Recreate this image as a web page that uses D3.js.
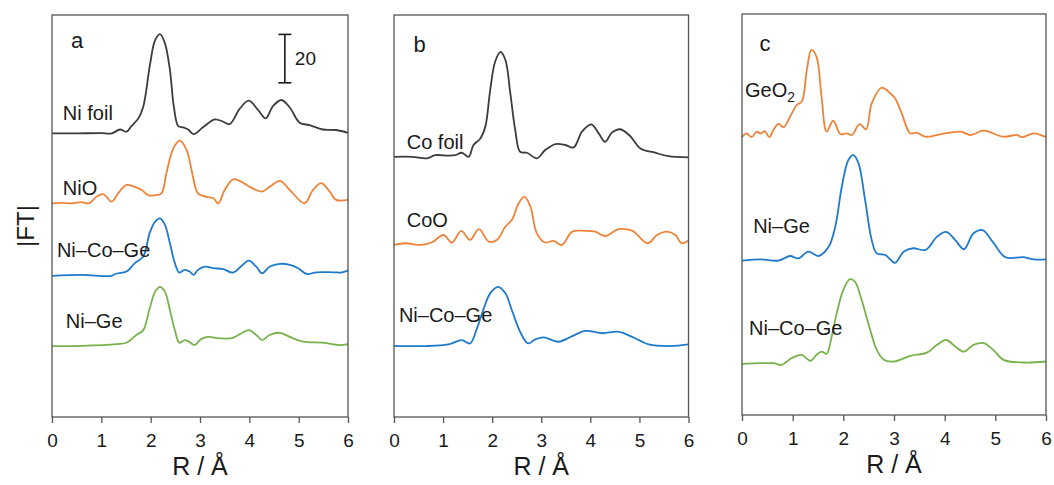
<!DOCTYPE html>
<html>
<head>
<meta charset="utf-8">
<script src="https://cdn.jsdelivr.net/npm/d3@7"></script>
<style>
body { margin: 0; background: #fff; }
text { font-family: Arial, "Liberation Sans", sans-serif; fill: #1a1a1a; }
</style>
</head>
<body>
<svg id="chart" width="1054" height="485"></svg>
<script>

/* data: [R (Å), |FT|] */
var rTicks = [0, 1, 2, 3, 4, 5, 6]

var niFoil = [[0,0.5],[0.5,0.5],[1.0,0.6],[1.21,0.5],[1.38,2.1],[1.51,1.2],[1.61,3.5],[1.75,6.7],[1.85,11.5],[1.99,29.4],[2.09,39.0],[2.19,41.5],[2.29,37.7],[2.39,26.7],[2.47,11.5],[2.56,3.5],[2.66,3.0],[2.76,2.1],[2.87,0.2],[3.06,3.0],[3.3,6.3],[3.47,5.3],[3.6,4.3],[3.81,10.8],[3.99,14.0],[4.18,10.1],[4.33,6.7],[4.48,11.8],[4.65,14.3],[4.82,11.2],[5.02,4.9],[5.22,3.9],[5.49,2.1],[5.76,1.9],[6.0,0.7]]
var niO = [[0,0.3],[0.2,0.5],[0.4,0.3],[0.6,0.8],[0.75,0.3],[0.9,3.0],[1.04,4.1],[1.21,1.0],[1.34,4.4],[1.51,7.9],[1.68,7.1],[1.82,5.8],[1.95,3.7],[2.12,3.7],[2.22,4.4],[2.32,12.8],[2.46,23.0],[2.59,26.2],[2.73,22.3],[2.83,14.0],[2.96,4.4],[3.13,3.0],[3.27,2.4],[3.37,0.3],[3.5,5.8],[3.67,10.2],[3.81,9.5],[4.01,7.1],[4.25,5.1],[4.41,7.1],[4.62,9.6],[4.82,5.8],[5.12,0.3],[5.29,5.8],[5.46,8.6],[5.63,5.1],[5.76,1.7],[6.0,1.7]]
var niCoGeA = [[0,0.2],[0.6,0.6],[1.21,0.2],[1.28,1.0],[1.51,2.0],[1.68,5.5],[1.85,8.2],[1.98,17.9],[2.09,22.6],[2.19,24.0],[2.29,21.3],[2.39,13.7],[2.49,5.5],[2.58,1.6],[2.69,2.7],[2.79,2.0],[2.87,0.6],[2.96,2.7],[3.1,4.0],[3.27,3.4],[3.47,3.0],[3.67,1.6],[3.84,4.3],[3.99,6.5],[4.14,4.0],[4.26,1.3],[4.41,4.0],[4.62,5.2],[4.82,4.8],[4.99,3.4],[5.16,1.0],[5.36,1.7],[5.69,1.7],[5.86,1.6],[6.0,2.4]]
var niGeA = [[0,0.2],[0.6,0.3],[1.31,1.0],[1.51,1.6],[1.71,4.8],[1.85,6.8],[1.98,15.8],[2.09,22.6],[2.19,24.7],[2.29,22.6],[2.39,15.1],[2.49,6.8],[2.58,1.6],[2.69,2.7],[2.78,2.0],[2.89,0.6],[3.02,3.0],[3.16,4.0],[3.4,3.4],[3.67,3.6],[3.84,5.5],[3.99,6.8],[4.14,4.8],[4.26,2.7],[4.41,4.8],[4.62,5.7],[4.82,4.0],[5.09,2.0],[5.49,1.6],[5.83,0.6],[6.0,1.0]]

var coFoil = [[0,0.7],[0.37,0.7],[0.67,0.1],[0.84,1.4],[1.11,1.2],[1.25,1.4],[1.38,2.4],[1.52,0.7],[1.62,5.6],[1.76,8.3],[1.86,13.1],[1.96,28.3],[2.06,40.0],[2.17,44.1],[2.27,40.7],[2.37,26.9],[2.47,11.8],[2.57,2.8],[2.71,2.4],[2.91,0.1],[3.08,3.5],[3.29,6.0],[3.49,5.6],[3.66,4.6],[3.83,11.1],[4.02,14.1],[4.17,10.4],[4.3,6.9],[4.44,10.7],[4.61,12.1],[4.81,9.3],[5.02,4.2],[5.32,2.4],[5.59,1.0],[6.0,0.5]]
var coO = [[0,0.2],[0.23,0.9],[0.54,0.2],[0.77,1.2],[1.01,4.3],[1.18,1.2],[1.37,6.0],[1.55,2.3],[1.73,6.7],[1.93,1.6],[2.1,2.3],[2.27,7.8],[2.4,10.5],[2.54,17.4],[2.66,20.2],[2.78,16.0],[2.91,5.0],[3.08,1.2],[3.25,1.9],[3.42,0.2],[3.63,5.7],[3.9,6.0],[4.1,5.7],[4.3,3.9],[4.58,6.7],[4.85,6.1],[5.17,0.9],[5.36,4.3],[5.56,5.7],[5.73,4.3],[5.86,0.9],[6.0,2.0]]
var niCoGeB = [[0,0.3],[0.64,0.2],[1.11,0.9],[1.38,2.7],[1.55,1.3],[1.69,7.5],[1.83,15.8],[1.96,22.0],[2.12,24.7],[2.27,22.0],[2.4,15.1],[2.57,6.1],[2.73,1.3],[2.88,3.0],[3.05,3.8],[3.35,2.0],[3.63,4.3],[3.9,6.5],[4.24,5.5],[4.58,6.1],[4.85,4.0],[5.19,0.9],[5.6,0.2],[6.0,0.9]]

var geO2 = [[0,0.1],[0.09,1.7],[0.19,0.1],[0.29,2.4],[0.37,1.6],[0.45,2.6],[0.54,0.1],[0.62,3.1],[0.72,5.6],[0.82,4.2],[0.95,8.6],[1.08,13.4],[1.18,14.8],[1.28,27.9],[1.37,36.2],[1.47,33.4],[1.57,16.9],[1.67,2.4],[1.8,6.9],[1.94,1.4],[2.07,1.7],[2.17,1.0],[2.32,5.5],[2.45,3.4],[2.56,14.1],[2.76,20.6],[2.89,18.9],[3.02,16.2],[3.15,10.0],[3.32,1.7],[3.45,2.0],[3.62,0.3],[3.91,1.3],[4.31,2.4],[4.51,1.0],[4.77,2.8],[5.16,0.3],[5.43,1.0],[5.53,0.1],[5.76,1.7],[6.0,0.1]]
var niGeC = [[0,1.0],[0.36,1.5],[0.72,1.0],[0.95,2.9],[1.11,1.9],[1.31,4.7],[1.51,2.9],[1.71,6.7],[1.84,15.0],[1.97,31.5],[2.1,42.6],[2.2,44.6],[2.3,41.2],[2.43,26.0],[2.56,9.5],[2.66,4.0],[2.83,3.3],[3.02,0.1],[3.19,4.7],[3.38,6.1],[3.62,5.4],[3.85,10.9],[4.03,12.9],[4.21,9.5],[4.38,5.7],[4.57,12.3],[4.75,13.6],[4.96,8.4],[5.2,2.4],[5.56,2.4],[5.76,1.5],[6.0,1.5]]
var niCoGeC = [[0,0.6],[0.36,0.9],[0.62,0.9],[0.78,0.2],[0.98,3.0],[1.18,4.3],[1.35,1.9],[1.47,4.3],[1.57,5.7],[1.67,4.8],[1.77,11.9],[1.87,21.6],[2.0,31.2],[2.13,35.6],[2.23,34.6],[2.36,27.1],[2.53,14.7],[2.66,6.4],[2.8,2.3],[2.99,1.6],[3.32,3.9],[3.65,5.3],[3.85,8.5],[4.03,10.5],[4.21,7.8],[4.38,5.7],[4.57,8.5],[4.77,9.2],[4.96,6.4],[5.16,2.3],[5.56,1.2],[6.0,1.6]]

var panelA_names = ["Ni foil", "NiO", "Ni–Co–Ge", "Ni–Ge"]
var panelA_offsets = [116.7, 88.0, 58.1, 29.1]
var panelB_names = ["Co foil", "CoO", "Ni–Co–Ge"]
var panelB_offsets = [106.8, 70.9, 29.1]
var panelC_names = ["GeO2", "Ni–Ge", "Ni–Co–Ge"]
var panelC_offsets = [114.7, 62.8, 20.5]
var scaleBarValue = 20

/* styles */
var colors = { dark: "#3c3c3c", orange: "#ee8339", blue: "#1f7acb", green: "#77b24c" }

var layout = {
  unitsPerPanel: 166,
  tickLen: 6,
  tickPad: 11,
  curveW: 1.8,
  frameW: 1.3,
  frameColor: "#555",
  labelSize: "20px",
  tickSize: "19px"
}

var panels = [
  { letter: "a", left: 52, right: 348, top: 15, bottom: 417, letterDx: 19, letterDy: 33,
    series: [niFoil, niO, niCoGeA, niGeA], names: panelA_names, offsets: panelA_offsets,
    colors: [colors.dark, colors.orange, colors.blue, colors.green],
    labels: [[0.22, 122.9], [0.22, 91.7], [0.1, 66.1], [0.28, 36.8]] },
  { letter: "b", left: 394, right: 688.5, top: 15, bottom: 417, letterDx: 19.5, letterDy: 36.5,
    series: [coFoil, coO, niCoGeB], names: panelB_names, offsets: panelB_offsets,
    colors: [colors.dark, colors.orange, colors.blue],
    labels: [[0.26, 110.7], [0.26, 78.5], [0.1, 39.3]] },
  { letter: "c", left: 742, right: 1046, top: 14, bottom: 415, letterDx: 17.5, letterDy: 36.5,
    series: [geO2, niGeC, niCoGeC], names: panelC_names, offsets: panelC_offsets,
    colors: [colors.orange, colors.blue, colors.green],
    labels: [[0.06, 131.4], [0.22, 75.2], [0.14, 33.1]] }
]

var svg = d3.select("#chart")

panels.forEach(drawPanel)

function drawPanel(p) {
  var xScale = d3.scaleLinear().domain([0, 6]).range([p.left, p.right])
  var yScale = d3.scaleLinear().domain([0, layout.unitsPerPanel]).range([p.bottom, p.bottom - layout.unitsPerPanel * 2.42])

  var g = svg.append("g")

  /* curves */
  p.series.forEach(function(data, i) {
    var lineFn = d3.line()
      .x(function(d) { return xScale(d[0]) })
      .y(function(d) { return yScale(d[1] + p.offsets[i]) })
      .curve(d3.curveCatmullRom.alpha(0.5))
    g.append("path")
      .attr("d", lineFn(data))
      .attr("fill", "none")
      .attr("stroke", p.colors[i])
      .attr("stroke-width", layout.curveW)
      .attr("stroke-linejoin", "round")
  })

  /* sample labels */
  p.names.forEach(function(name, i) {
    var t = g.append("text")
      .attr("x", xScale(p.labels[i][0]))
      .attr("y", yScale(p.labels[i][1]))
      .style("font-size", layout.labelSize)
    if (name == "GeO2") {
      t.append("tspan").text("GeO")
      t.append("tspan").text("2").attr("dy", 5).style("font-size", "14px")
    } else {
      t.text(name)
    }
  })

  /* frame */
  g.append("rect")
    .attr("x", p.left)
    .attr("y", p.top)
    .attr("width", p.right - p.left)
    .attr("height", p.bottom - p.top)
    .attr("fill", "none")
    .attr("stroke", layout.frameColor)
    .attr("stroke-width", layout.frameW)

  /* x axis */
  var axis = g.append("g")
    .attr("transform", "translate(0," + p.bottom + ")")
    .call(d3.axisBottom(xScale).tickValues(rTicks).tickFormat(d3.format("d"))
      .tickSize(layout.tickLen).tickPadding(layout.tickPad))
  axis.select(".domain").remove()
  axis.selectAll("line").attr("stroke", layout.frameColor).attr("stroke-width", layout.frameW)
  axis.selectAll("text")
    .attr("fill", "#1a1a1a")
    .style("font-family", "Arial, 'Liberation Sans', sans-serif")
    .style("font-size", layout.tickSize)

  g.append("text")
    .attr("x", (p.left + p.right) / 2)
    .attr("y", p.bottom + 58)
    .attr("text-anchor", "middle")
    .style("font-size", "25px")
    .text("R / Å")

  /* panel letter */
  g.append("text")
    .attr("x", p.left + p.letterDx)
    .attr("y", p.top + p.letterDy)
    .style("font-size", "22px")
    .text(p.letter)

  /* scale bar, panel a only */
  if (p.letter == "a") {
    var barX = xScale(4.72)
    var barTop = yScale(138.1 + scaleBarValue)
    var barBot = yScale(138.1)
    g.append("line")
      .attr("x1", barX).attr("x2", barX)
      .attr("y1", barTop).attr("y2", barBot)
      .attr("stroke", "#1a1a1a").attr("stroke-width", 1.6)
    ;[barTop, barBot].forEach(function(y) {
      g.append("line")
        .attr("x1", barX - 6.5).attr("x2", barX + 6.5)
        .attr("y1", y).attr("y2", y)
        .attr("stroke", "#1a1a1a").attr("stroke-width", 1.6)
    })
    g.append("text")
      .attr("x", barX + 10)
      .attr("y", (barTop + barBot) / 2 + 6.5)
      .style("font-size", "19px")
      .text(scaleBarValue)
  }
}

/* y label */
svg.append("text")
  .attr("transform", "translate(34,226) rotate(-90)")
  .attr("text-anchor", "middle")
  .style("font-size", "24px")
  .text("|FT|")

</script>
</body>
</html>
